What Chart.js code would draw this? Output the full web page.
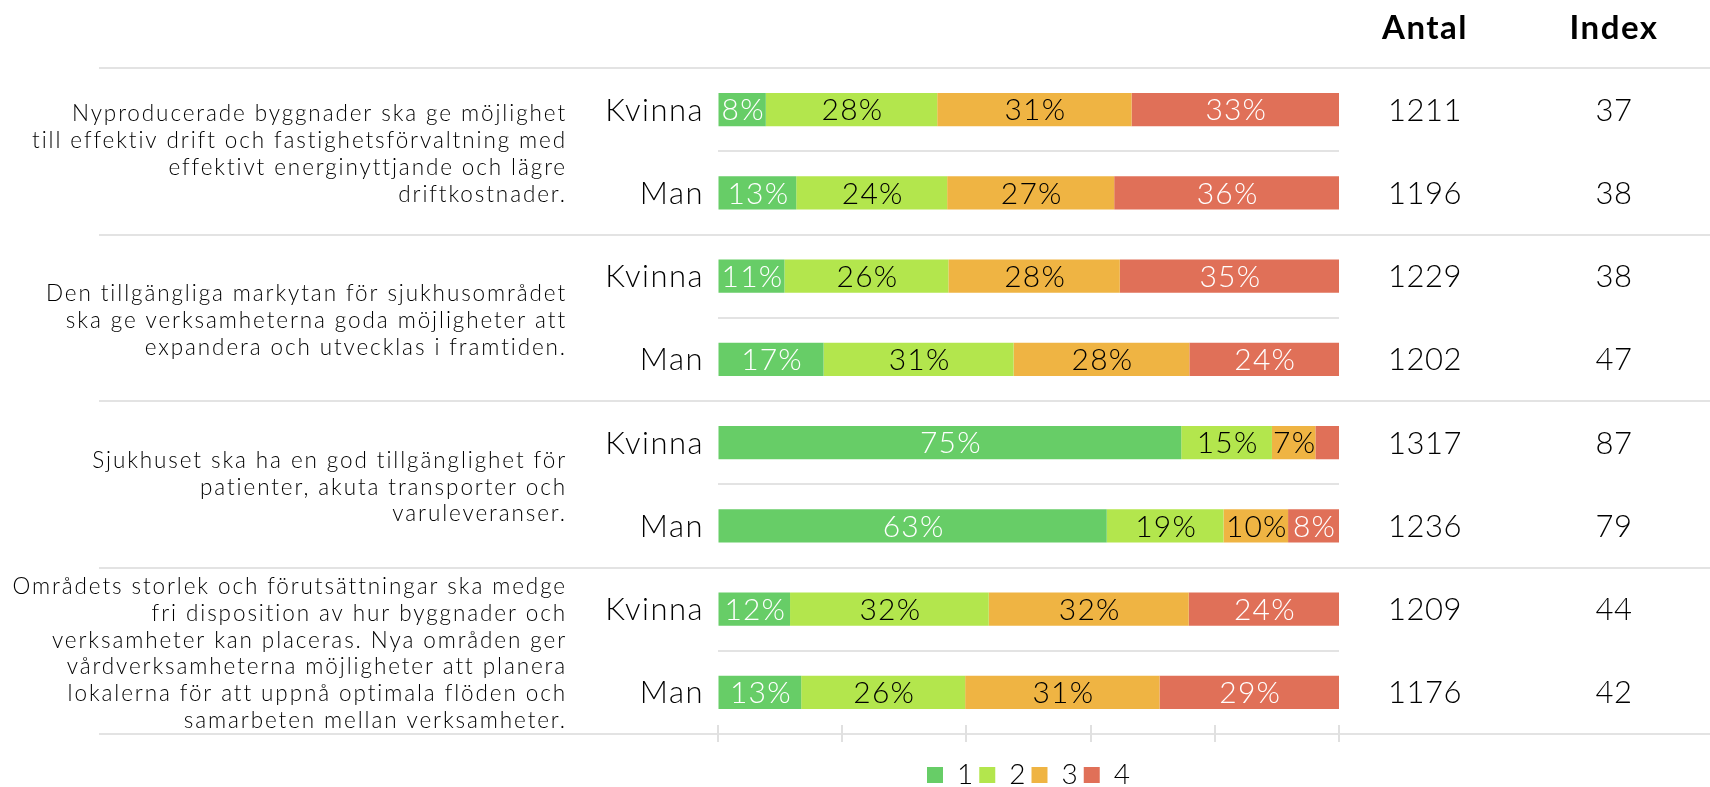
<!DOCTYPE html>
<html>
<head>
<meta charset="utf-8">
<script src="https://cdn.jsdelivr.net/npm/chart.js@4.4.1/dist/chart.umd.min.js"></script>
<style>
  html, body { margin: 0; padding: 0; background: #fff; overflow: hidden; }
  #wrap { width: 1710px; height: 787px; position: relative; }
</style>
</head>
<body>
<div id="wrap"><canvas id="chart"></canvas></div>
<script>
// rows: two per question (Kvinna / Man)
const categories = ['Kvinna', 'Man', 'Kvinna', 'Man', 'Kvinna', 'Man', 'Kvinna', 'Man'];
const seriesNames = ['1', '2', '3', '4'];
const share1 = [7.7, 12.6, 10.7, 17.0, 74.6, 62.6, 11.6, 13.4];
const share2 = [27.6, 24.3, 26.4, 30.6, 14.6, 18.8, 32.0, 26.4];
const share3 = [31.3, 26.9, 27.6, 28.3, 7.0, 10.4, 32.2, 31.3];
const share4 = [33.4, 36.2, 35.3, 24.1, 3.8, 8.2, 24.2, 28.9];
const antal = [1211, 1196, 1229, 1202, 1317, 1236, 1209, 1176];
const index = [37, 38, 38, 47, 87, 79, 44, 42];
const xTicks = [0, 20, 40, 60, 80, 100];

const questions = [
  ['Nyproducerade byggnader ska ge möjlighet', 'till effektiv drift och fastighetsförvaltning med',
   'effektivt energinyttjande och lägre', 'driftkostnader.'],
  ['Den tillgängliga markytan för sjukhusområdet', 'ska ge verksamheterna goda möjligheter att',
   'expandera och utvecklas i framtiden.'],
  ['Sjukhuset ska ha en god tillgänglighet för', 'patienter, akuta transporter och', 'varuleveranser.'],
  ['Områdets storlek och förutsättningar ska medge', 'fri disposition av hur byggnader och',
   'verksamheter kan placeras. Nya områden ger', 'vårdverksamheterna möjligheter att planera',
   'lokalerna för att uppnå optimala flöden och', 'samarbeten mellan verksamheter.']
];

const colors = ['#67cd67', '#b3e64d', '#efb443', '#e07058'];
const labelColors = ['#ffffff', '#000000', '#000000', '#ffffff'];
const FONT = 'Lato, "Open Sans", sans-serif';

const tableParts = {
  id: 'tableParts',
  beforeDatasetsDraw(chart) {
    const { ctx, chartArea, scales: { x, y } } = chart;
    const n = chart.data.labels.length;
    const edge = i => i === 0 ? chartArea.top : i === n ? chartArea.bottom
      : (y.getPixelForValue(i - 1) + y.getPixelForValue(i)) / 2;
    ctx.save();
    ctx.lineWidth = 2;
    ctx.strokeStyle = '#e3e3e3';
    for (let i = 0; i <= n; i++) {
      const yy = Math.round(edge(i));
      ctx.beginPath();
      if (i % 2 === 0) { ctx.moveTo(99, yy); ctx.lineTo(chart.width, yy); }
      else { ctx.moveTo(chartArea.left, yy); ctx.lineTo(chartArea.right, yy); }
      ctx.stroke();
    }
    // small tick marks on the bottom line
    ctx.strokeStyle = '#e0e0e0';
    xTicks.forEach(v => {
      const xx = Math.round(x.getPixelForValue(v));
      ctx.beginPath();
      ctx.moveTo(xx, chartArea.bottom - 9);
      ctx.lineTo(xx, chartArea.bottom + 8);
      ctx.stroke();
    });
    ctx.restore();
  },
  afterDatasetsDraw(chart) {
    const { ctx, chartArea, scales: { y } } = chart;
    ctx.save();
    ctx.textBaseline = 'middle';

    // percentages inside the bars
    ctx.font = '300 30px ' + FONT;
    ctx.letterSpacing = '1.2px';
    ctx.textAlign = 'center';
    chart.data.datasets.forEach((ds, di) => {
      chart.getDatasetMeta(di).data.forEach((bar, i) => {
        const v = ds.data[i];
        if (v < 5) return;
        ctx.fillStyle = labelColors[di];
        ctx.fillText(Math.round(v) + '%', (bar.x + bar.base) / 2 + 1, bar.y + 1);
      });
    });

    // row labels, Antal, Index
    chart.data.labels.forEach((lab, i) => {
      const yy = y.getPixelForValue(i) + 1;
      ctx.fillStyle = '#000';
      ctx.font = '300 31px ' + FONT;
      ctx.letterSpacing = '1.5px';
      ctx.textAlign = 'right';
      ctx.fillText(lab, chartArea.left - 14, yy);
      ctx.textAlign = 'center';
      ctx.letterSpacing = '0.5px';
      ctx.fillText(String(antal[i]), 1425, yy);
      ctx.fillText(String(index[i]), 1614, yy);
    });

    // column headers
    ctx.font = '700 33px ' + FONT;
    ctx.letterSpacing = '1.5px';
    ctx.textAlign = 'center';
    ctx.fillText('Antal', 1425, 28);
    ctx.fillText('Index', 1614, 28);

    // question texts, centred on their pair of rows
    ctx.font = '300 22.5px ' + FONT;
    ctx.textAlign = 'right';
    ctx.letterSpacing = '1.9px';
    const lh = 26.7;
    questions.forEach((lines, q) => {
      const mid = (y.getPixelForValue(2 * q) + y.getPixelForValue(2 * q + 1)) / 2 + 3;
      const top = mid - (lines.length - 1) * lh / 2;
      lines.forEach((t, k) => ctx.fillText(t, 567, top + k * lh));
    });
    ctx.restore();
  }
};

new Chart(document.getElementById('chart'), {
  type: 'bar',
  data: {
    labels: categories,
    datasets: [share1, share2, share3, share4].map((d, i) => ({
      label: seriesNames[i],
      data: d,
      backgroundColor: colors[i],
      borderWidth: 0,
      barPercentage: 0.4,
      categoryPercentage: 1
    }))
  },
  options: {
    indexAxis: 'y',
    responsive: true,
    maintainAspectRatio: false,
    animation: false,
    layout: { padding: { left: 718, right: 371, top: 68, bottom: 0 } },
    scales: {
      x: {
        stacked: true, min: 0, max: 100,
        ticks: { display: false, stepSize: 20 },
        grid: { drawOnChartArea: false, drawTicks: true, tickLength: 21, color: 'rgba(0,0,0,0)' },
        border: { display: false }
      },
      y: { stacked: true, display: false }
    },
    plugins: {
      legend: {
        position: 'bottom',
        maxHeight: 32,
        labels: {
          boxWidth: 16, boxHeight: 16, padding: 6,
          color: '#000',
          font: { family: FONT, size: 28, weight: '300' }
        }
      },
      tooltip: { enabled: false }
    }
  },
  plugins: [tableParts]
});
</script>
</body>
</html>
